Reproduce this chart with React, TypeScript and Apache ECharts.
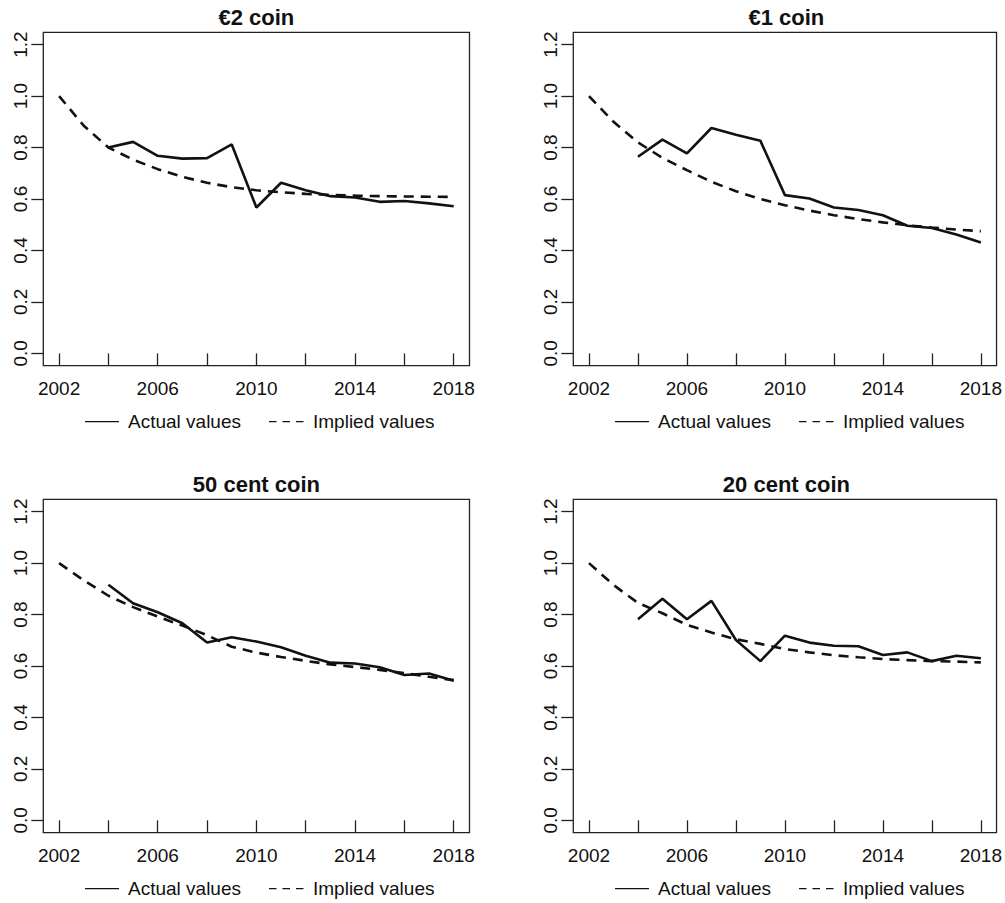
import React, { useEffect, useRef } from "react";
import * as echarts from "echarts";

const years = [2002, 2003, 2004, 2005, 2006, 2007, 2008, 2009, 2010, 2011, 2012, 2013, 2014, 2015, 2016, 2017, 2018];
const tickYears = [2002, 2004, 2006, 2008, 2010, 2012, 2014, 2016, 2018];
const labelYears = [2002, 2006, 2010, 2014, 2018];
const yTicks = [0, 0.2, 0.4, 0.6, 0.8, 1.0, 1.2];

const titles = ["€2 coin", "€1 coin", "50 cent coin", "20 cent coin"];
const legendNames = ["Actual values", "Implied values"];

const actual2e = [null, null, 0.8, 0.822, 0.768, 0.757, 0.759, 0.812, 0.567, 0.663, 0.634, 0.611, 0.606, 0.589, 0.592, 0.583, 0.572];
const implied2e = [1.0, 0.885, 0.8, 0.753, 0.716, 0.686, 0.663, 0.646, 0.634, 0.626, 0.62, 0.616, 0.613, 0.611, 0.61, 0.609, 0.608];

const actual1e = [null, null, 0.764, 0.831, 0.777, 0.876, 0.85, 0.826, 0.615, 0.602, 0.567, 0.557, 0.537, 0.496, 0.487, 0.462, 0.431];
const implied1e = [1.0, 0.9, 0.82, 0.76, 0.712, 0.667, 0.63, 0.6, 0.576, 0.555, 0.537, 0.522, 0.509, 0.498, 0.489, 0.481, 0.475];

const actual50c = [null, null, 0.916, 0.844, 0.809, 0.766, 0.691, 0.712, 0.695, 0.673, 0.64, 0.613, 0.61, 0.595, 0.565, 0.571, 0.543];
const implied50c = [1.0, 0.933, 0.873, 0.829, 0.792, 0.757, 0.72, 0.675, 0.652, 0.635, 0.62, 0.606, 0.596, 0.585, 0.572, 0.558, 0.545];

const actual20c = [null, null, 0.782, 0.861, 0.782, 0.853, 0.701, 0.619, 0.718, 0.691, 0.679, 0.677, 0.643, 0.653, 0.619, 0.64, 0.63];
const implied20c = [1.0, 0.915, 0.845, 0.805, 0.76, 0.73, 0.704, 0.686, 0.666, 0.653, 0.642, 0.634, 0.627, 0.623, 0.619, 0.617, 0.614];

const actualSets = [actual2e, actual1e, actual50c, actual20c];
const impliedSets = [implied2e, implied1e, implied50c, implied20c];

const FONT = "Liberation Sans, Arial, Helvetica, sans-serif";
const INK = "#111";

const toPairs = (vals: (number | null)[]) =>
  years.map((y, i) => [y, vals[i]] as [number, number | null]).filter((p) => p[1] !== null);

export default function App() {
  const ref = useRef<HTMLDivElement>(null);
  useEffect(() => {
    if (!ref.current) return;
    const chart = echarts.init(ref.current, undefined, { renderer: "svg" });

    const panels = [
      { left: 43.3, top: 32.3 },
      { left: 573.3, top: 32.3 },
      { left: 43.3, top: 499.3 },
      { left: 573.3, top: 499.3 },
    ];
    const W = 426.2;
    const H = 333.4;

    const grid = panels.map((p) => ({
      left: p.left,
      top: p.top,
      width: W,
      height: H,
      show: true,
      borderColor: "#222",
      borderWidth: 1.3,
      backgroundColor: "transparent",
    }));

    const xAxis = panels.map((_, i) => ({
      type: "value",
      gridIndex: i,
      min: 2001.36,
      max: 2018.64,
      axisLine: { show: false },
      splitLine: { show: false },
      axisTick: {
        show: true,
        customValues: tickYears,
        length: 12,
        lineStyle: { color: "#222", width: 1.3 },
      },
      axisLabel: {
        show: true,
        customValues: labelYears,
        fontSize: 19,
        fontFamily: FONT,
        color: INK,
        margin: 13,
        formatter: (v: number) => String(Math.round(v)),
      },
    }));

    const yAxis = panels.map((_, i) => ({
      type: "value",
      gridIndex: i,
      min: -0.048,
      max: 1.248,
      axisLine: { show: false },
      splitLine: { show: false },
      axisTick: {
        show: true,
        customValues: yTicks,
        length: 12,
        lineStyle: { color: "#222", width: 1.3 },
      },
      axisLabel: {
        show: true,
        customValues: yTicks,
        rotate: 90,
        fontSize: 19,
        fontFamily: FONT,
        color: INK,
        margin: 13,
        formatter: (v: number) => Number(v).toFixed(1),
      },
    }));

    const series: any[] = [];
    panels.forEach((_, i) => {
      series.push({
        type: "line",
        name: legendNames[0],
        xAxisIndex: i,
        yAxisIndex: i,
        data: toPairs(actualSets[i]),
        symbol: "none",
        lineStyle: { color: INK, width: 2.6 },
        z: 3,
      });
      series.push({
        type: "line",
        name: legendNames[1],
        xAxisIndex: i,
        yAxisIndex: i,
        data: toPairs(impliedSets[i]),
        symbol: "none",
        lineStyle: { color: INK, width: 2.6, type: [10, 7] },
        z: 2,
      });
    });

    const graphic: any[] = [];
    panels.forEach((p, i) => {
      const cx = p.left + W / 2;
      graphic.push({
        type: "text",
        x: cx,
        y: p.top - 14.5,
        style: {
          text: titles[i],
          font: `bold 22px ${FONT}`,
          fill: INK,
          textAlign: "center",
          textVerticalAlign: "middle",
        },
      });
      const ly = p.top + 389.4;
      const lx = p.left;
      graphic.push({
        type: "line",
        shape: { x1: lx + 41.7, y1: ly, x2: lx + 75.7, y2: ly },
        style: { stroke: INK, lineWidth: 1.2 },
      });
      graphic.push({
        type: "text",
        x: lx + 84.7,
        y: ly,
        style: {
          text: legendNames[0],
          font: `19px ${FONT}`,
          fill: INK,
          textAlign: "left",
          textVerticalAlign: "middle",
        },
      });
      graphic.push({
        type: "line",
        shape: { x1: lx + 225.7, y1: ly, x2: lx + 260.7, y2: ly },
        style: { stroke: INK, lineWidth: 1.2, lineDash: [7.5, 6] },
      });
      graphic.push({
        type: "text",
        x: lx + 269.7,
        y: ly,
        style: {
          text: legendNames[1],
          font: `19px ${FONT}`,
          fill: INK,
          textAlign: "left",
          textVerticalAlign: "middle",
        },
      });
    });

    chart.setOption({
      animation: false,
      backgroundColor: "#fff",
      grid,
      xAxis,
      yAxis,
      series,
      graphic,
    });
    return () => chart.dispose();
  }, []);

  return (
    <div
      ref={ref}
      style={{ position: "fixed", left: 0, top: 0, width: 1005, height: 903, background: "#fff" }}
    />
  );
}
